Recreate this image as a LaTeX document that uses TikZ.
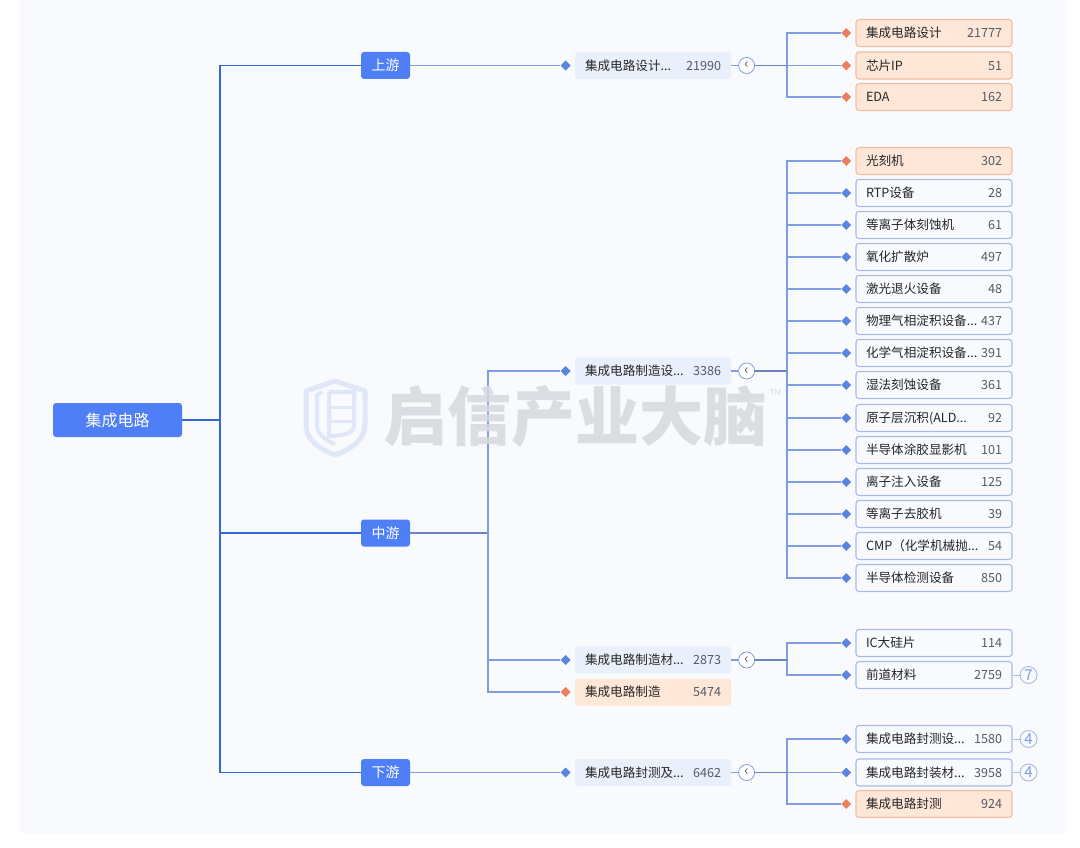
\documentclass[tikz,border=0pt]{standalone}
\usepackage{xcolor}
\usepackage{fontspec}
\setmainfont{Noto Sans CJK SC}
\usetikzlibrary{positioning, shapes.geometric}

\definecolor{panelbg}{HTML}{F8FAFE}
\definecolor{rootblue}{HTML}{4F7FF7}
\definecolor{trunkblue}{HTML}{3566D6}
\definecolor{linkblue}{HTML}{7F9DE2}
\definecolor{dotblue}{HTML}{5B84DC}
\definecolor{dotorange}{HTML}{EC7F5F}
\definecolor{leafedge}{HTML}{A6BBE8}
\definecolor{midfill}{HTML}{E9F0FC}
\definecolor{hotfill}{HTML}{FFE7D8}
\definecolor{hotedge}{HTML}{F6BBA2}
\definecolor{numgray}{HTML}{555A66}
\definecolor{markgray}{HTML}{D6D8DE}
\definecolor{markblue}{HTML}{DCE4F8}

\newcommand{\rowtext}[2]{\makebox[136pt]{#1\hfill\textcolor{numgray}{#2}}}
\newcommand{\cutoff}{{.}{.}{.}}

\tikzset{
	rootbox/.style = {fill=rootblue, text=white, rounded corners=3pt, minimum width=129pt, minimum height=34pt, font=\fontsize{16}{18}\selectfont},
	streambox/.style = {fill=rootblue, text=white, rounded corners=3pt, minimum width=49pt, minimum height=27pt, font=\fontsize{14}{16}\selectfont},
	rowbox/.style = {rounded corners=3pt, minimum width=156pt, minimum height=27pt, inner xsep=10pt, text height=11pt, text depth=1.6pt, text=black!85, font=\fontsize{12.6}{14}\selectfont},
	midbox/.style = {rowbox, fill=midfill},
	midhot/.style = {rowbox, fill=hotfill},
	leafbox/.style = {rowbox, fill=panelbg, draw=leafedge, line width=1.1pt},
	leafhot/.style = {rowbox, fill=hotfill, draw=hotedge, line width=1.1pt},
	dotb/.style = {diamond, fill=dotblue, inner sep=0pt, minimum size=10pt},
	doto/.style = {diamond, fill=dotorange, inner sep=0pt, minimum size=10pt},
	toggle/.style = {circle, draw=linkblue, fill=white, line width=0.8pt, inner sep=0pt, minimum size=16pt, text=numgray, font=\fontsize{14}{14}\selectfont},
	badge/.style = {circle, draw=leafedge, fill=panelbg, line width=0.9pt, inner sep=0pt, minimum size=17pt, text=linkblue, font=\fontsize{15}{15}\selectfont},
	trunk/.style = {draw=trunkblue, line width=1.8pt},
	branch/.style = {draw=linkblue, line width=1.2pt},
	feed/.style = {draw=linkblue!85!black, line width=1.7pt},
}

\begin{document}
\begin{tikzpicture}[x=1pt, y=-1pt]
	\useasboundingbox (0,0) rectangle (1080,848);
	\fill[white] (0,0) rectangle (1080,848);
	\fill[panelbg] (20,0) rectangle (1065,833);

	% root and streams
	\node [rootbox] (root) at (117.5,420) {集成电路};
	\node [streambox] (up) at (385.5,65.5) {上游};
	\node [streambox] (middle) at (385.5,533) {中游};
	\node [streambox] (down) at (385.5,772.5) {下游};
	\coordinate (rootbus) at (220,420);
	\coordinate (upbus) at (220,65.5);
	\coordinate (middlebus) at (220,533);
	\coordinate (downbus) at (220,772.5);

	\draw [trunk] (root) -- (rootbus);
	\draw [trunk] (upbus) -- (downbus);
	\draw [trunk] (upbus) -- (up);
	\draw [trunk] (middlebus) -- (middle);
	\draw [trunk] (downbus) -- (down);

	% second level
	\node [midbox] (design) at (653,65.5) {\rowtext{集成电路设计...}{21990}};
	\node [midbox] (equip) at (653,371) {\rowtext{集成电路制造设...}{3386}};
	\node [midbox] (material) at (653,660) {\rowtext{集成电路制造材...}{2873}};
	\node [midhot] (fab) at (653,692) {\rowtext{集成电路制造}{5474}};
	\node [midbox] (package) at (653,772.5) {\rowtext{集成电路封测及...}{6462}};

	\foreach \group/\dotstyle in {design/dotb, equip/dotb, material/dotb, fab/doto, package/dotb} {
		\node [\dotstyle, left=4pt of \group] (dot\group) {};
	}
	\foreach \group in {design, equip, material, package} {
		\node [toggle, right=7pt of \group] (toggle\group) {‹};
		\draw [branch] (\group) -- (toggle\group);
	}

	\coordinate (middlefork) at (488,533);
	\draw [branch] (up) -- (dotdesign);
	\draw [branch] (down) -- (dotpackage);
	\draw [feed] (middle) -- (middlefork);
	\draw [branch] (middlefork) |- (dotequip);
	\draw [branch] (middlefork) |- (dotmaterial);
	\draw [branch] (middlefork) |- (dotfab);

	% third level
	\foreach \id/\ypos/\boxstyle/\dotstyle/\txt/\num/\owner in {
		a/33/leafhot/doto/集成电路设计/21777/design,
		b/65.5/leafhot/doto/芯片IP/51/design,
		c/97/leafhot/doto/EDA/162/design,
		d/161/leafhot/doto/光刻机/302/equip,
		e/193/leafbox/dotb/RTP设备/28/equip,
		f/225/leafbox/dotb/等离子体刻蚀机/61/equip,
		g/257/leafbox/dotb/氧化扩散炉/497/equip,
		h/289/leafbox/dotb/激光退火设备/48/equip,
		i/321/leafbox/dotb/物理气相淀积设备\cutoff/437/equip,
		j/353/leafbox/dotb/化学气相淀积设备\cutoff/391/equip,
		k/385/leafbox/dotb/湿法刻蚀设备/361/equip,
		l/418/leafbox/dotb/原子层沉积(ALD\cutoff/92/equip,
		m/450/leafbox/dotb/半导体涂胶显影机/101/equip,
		n/482/leafbox/dotb/离子注入设备/125/equip,
		o/514/leafbox/dotb/等离子去胶机/39/equip,
		p/546/leafbox/dotb/CMP（化学机械抛\cutoff/54/equip,
		q/578/leafbox/dotb/半导体检测设备/850/equip,
		r/643/leafbox/dotb/IC大硅片/114/material,
		s/675/leafbox/dotb/前道材料/2759/material,
		t/739/leafbox/dotb/集成电路封测设\cutoff/1580/package,
		u/772.5/leafbox/dotb/集成电路封装材\cutoff/3958/package,
		v/804/leafhot/doto/集成电路封测/924/package} {
		\node [\boxstyle] (leaf\id) at (934,\ypos) {\rowtext{\txt}{\num}};
		\node [\dotstyle, left=4pt of leaf\id] (dot\id) {};
		\coordinate (bus\id) at (787,0);
		\draw [branch] (bus\id |- toggle\owner) |- (dot\id);
	}

	% heavier stub after each toggle
	\foreach \group in {design, equip, material, package} {
		\coordinate (stub\group) at (787,0);
		\draw [feed] (toggle\group) -- (stub\group |- toggle\group);
	}

	% counts of collapsed children
	\node [badge, right=7pt of leafs] (counts) {7};
	\node [badge, right=7pt of leaft] (countt) {4};
	\node [badge, right=7pt of leafu] (countu) {4};
	\foreach \id in {s, t, u} {
		\draw [draw=leafedge, line width=0.8pt] (leaf\id) -- (count\id);
	}

	% watermark
	\begin{scope}[opacity=0.85]
		\draw [markblue, line width=5pt, line join=round] (335,381) -- (306,391) -- (306,424) .. controls (306,442) and (322,450) .. (335,455) .. controls (348,450) and (365,442) .. (365,424) -- (365,391) -- cycle;
		\draw [markblue, line width=4pt] (322,392) -- (317,395) -- (317,425) .. controls (317,434) and (325,440) .. (335,444);
		\draw [markblue, line width=4pt] (329,392) -- (354,392) -- (354,425) .. controls (354,433) and (345,436) .. (329,436) -- (329,392);
		\draw [markblue, line width=3pt] (331,407) -- (354,407) (331,421) -- (354,421);
	\end{scope}
	\node [text=markgray, opacity=0.85, font=\fontsize{64}{66}\selectfont\bfseries, inner sep=0pt] (brand) at (575.5,416) {启信产业大脑};
	\node [text=markgray, font=\fontsize{8}{8}\selectfont, inner sep=0pt, right=2pt of brand.north east, yshift=-8pt] (brandtm) {TM};
\end{tikzpicture}
\end{document}
